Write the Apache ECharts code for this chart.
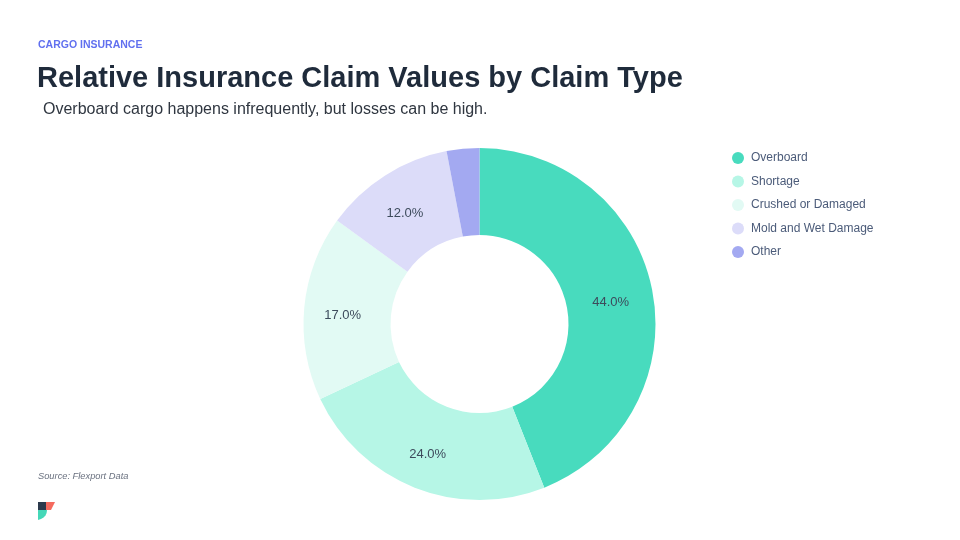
<!DOCTYPE html>
<html><head><meta charset="utf-8">
<script src="https://cdn.jsdelivr.net/npm/echarts@6/dist/echarts.min.js"></script>
<style>html,body{margin:0;padding:0;background:#fff}#c{width:960px;height:540px}</style>
</head><body><div id="c"></div>
<script>
var categories = ['Overboard', 'Shortage', 'Crushed or Damaged', 'Mold and Wet Damage', 'Other'];
var values = [44, 24, 17, 12, 3];
var colors = ['#48dbbe', '#b6f6e6', '#e2faf4', '#dcdcf9', '#a3a9f1'];

var chart = echarts.init(document.getElementById('c'));
chart.setOption({
  backgroundColor: '#fff',
  animation: false,
  title: [
    {text: 'CARGO INSURANCE', left: 38, top: 40, padding: 0, textStyle: {fontFamily: 'Liberation Sans', fontSize: 10.5, fontWeight: 'bold', color: '#6170ef'}},
    {text: 'Relative Insurance Claim Values by Claim Type', left: 37, top: 64, padding: 0, textStyle: {fontFamily: 'Liberation Sans', fontSize: 29, fontWeight: 'bold', color: '#1f2b3b'}},
    {text: 'Overboard cargo happens infrequently, but losses can be high.', left: 43, top: 102, padding: 0, textStyle: {fontFamily: 'Liberation Sans', fontSize: 16, fontWeight: 'normal', color: '#2f3640'}},
    {text: 'Source: Flexport Data', left: 38, top: 472, padding: 0, textStyle: {fontFamily: 'Liberation Sans', fontSize: 9.3, fontStyle: 'italic', fontWeight: 'normal', color: '#6b7280'}}
  ],
  legend: {
    orient: 'vertical', left: 727, top: 147, icon: 'circle', itemWidth: 12, itemHeight: 12, itemGap: 11.5,
    data: categories,
    textStyle: {fontFamily: 'Liberation Sans', fontSize: 12, color: '#4b5b79', padding: [0, 0, 0, 2]}
  },
  color: colors,
  series: [{
    type: 'pie', center: [479.5, 324], radius: [89, 176], startAngle: 90, clockwise: true,
    label: {position: 'inside', formatter: function(p){return p.value.toFixed(1) + '%';}, fontFamily: 'Liberation Sans', fontSize: 13, color: '#3d4b5c'},
    labelLayout: {dx: -2, dy: 4},
    labelLine: {show: false},
    itemStyle: {borderWidth: 0},
    emphasis: {disabled: true},
    data: categories.map(function(n, i){ return {name: n, value: values[i], label: {show: values[i] >= 5}}; })
  }],
  graphic: [
    {type: 'polygon', shape: {points: [[46,502],[55,502],[51,510],[46,510]]}, style: {fill: '#f56a5e'}},
    {type: 'rect', shape: {x: 38, y: 502, width: 8, height: 8}, style: {fill: '#2c3a4d'}},
    {type: 'polygon', shape: {points: [[38,510],[47,510],[46.6,513],[45.5,515.5],[43.5,517.5],[41,519],[38,520]]}, style: {fill: '#45d8b8'}}
  ]
});
</script></body></html>
